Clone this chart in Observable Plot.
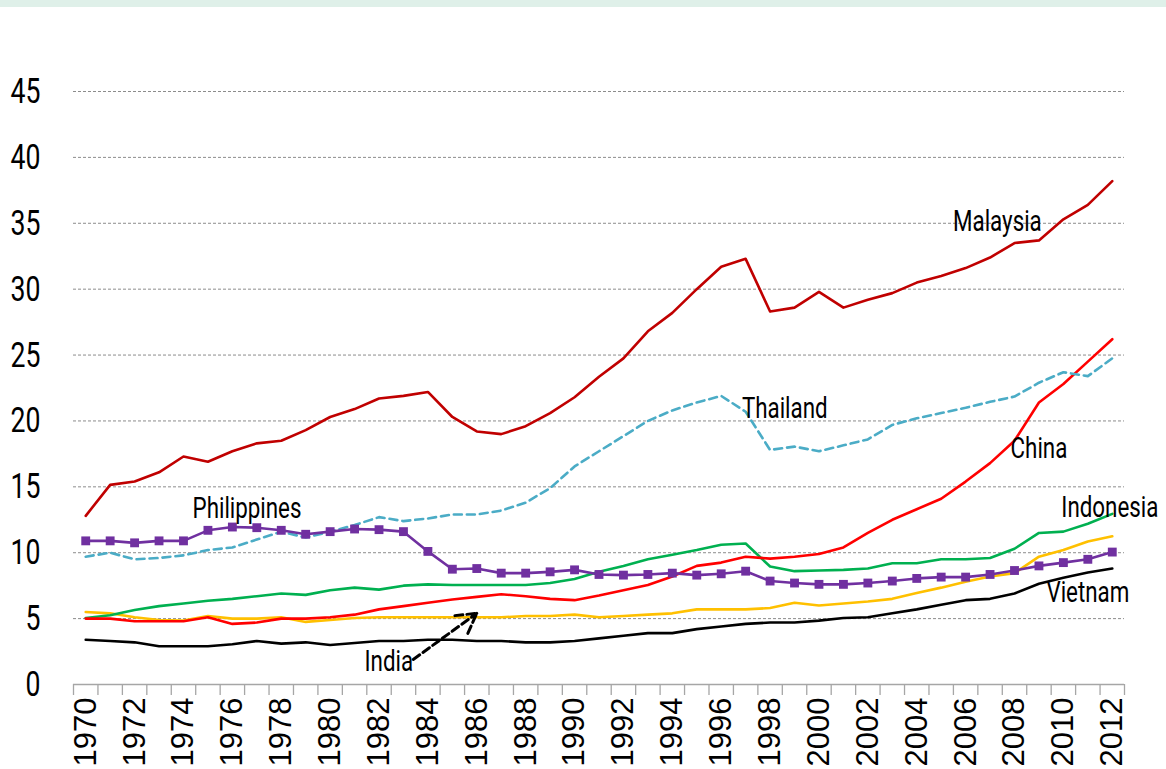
<!DOCTYPE html>
<html><head><meta charset="utf-8">
<script src="https://cdn.jsdelivr.net/npm/d3@7"></script>
<script src="https://cdn.jsdelivr.net/npm/@observablehq/plot@0.6"></script>
<style>
body{margin:0;background:#fff;overflow:hidden}
#band{height:7px;background:#dff0e9}
</style></head><body><div id="band"></div><div id="chart"></div>
<script>
const years = [1970,1971,1972,1973,1974,1975,1976,1977,1978,1979,1980,1981,1982,1983,1984,1985,1986,1987,1988,1989,1990,1991,1992,1993,1994,1995,1996,1997,1998,1999,2000,2001,2002,2003,2004,2005,2006,2007,2008,2009,2010,2011,2012];
const yearLabels = [1970,1972,1974,1976,1978,1980,1982,1984,1986,1988,1990,1992,1994,1996,1998,2000,2002,2004,2006,2008,2010,2012];
const yTicks = [0,5,10,15,20,25,30,35,40,45];

const malaysia = [12.8,15.15,15.4,16.1,17.3,16.9,17.7,18.3,18.5,19.3, 20.3,20.9,21.7,21.9,22.2,20.3,19.2,19.0,19.6,20.6, 21.8,23.35,24.75,26.8,28.2,30.0,31.7,32.3,28.3,28.6, 29.8,28.6,29.2,29.7,30.5,31.0,31.6,32.4,33.5,33.7, 35.3,36.4,38.2];
const thailand = [9.7,10.0,9.5,9.6,9.8,10.2,10.4,11.0,11.6,11.15, 11.6,12.1,12.7,12.4,12.6,12.9,12.9,13.2,13.8,14.9, 16.55,17.7,18.85,20.0,20.8,21.4,21.9,20.7,17.8,18.05, 17.7,18.15,18.6,19.7,20.2,20.6,21.0,21.45,21.85,22.9, 23.7,23.4,24.75];
const china = [5.0,5.0,4.8,4.8,4.8,5.1,4.6,4.7,5.0,5.0, 5.1,5.3,5.7,5.95,6.2,6.45,6.65,6.85,6.7,6.5, 6.4,6.75,7.15,7.55,8.2,9.0,9.25,9.7,9.55,9.7, 9.9,10.4,11.5,12.5,13.3,14.1,15.4,16.8,18.5,21.4, 22.8,24.5,26.2];
const indonesia = [5.05,5.25,5.65,5.95,6.15,6.35,6.5,6.7,6.9,6.8, 7.15,7.35,7.2,7.5,7.6,7.55,7.55,7.55,7.55,7.7, 8.0,8.55,9.0,9.5,9.85,10.2,10.6,10.7,8.95,8.6, 8.65,8.7,8.8,9.2,9.2,9.5,9.5,9.6,10.3,11.5, 11.6,12.2,12.95];
const philippines = [10.9,10.9,10.75,10.9,10.9,11.7,11.95,11.9,11.7,11.4, 11.6,11.8,11.75,11.6,10.1,8.75,8.8,8.45,8.45,8.55, 8.7,8.35,8.3,8.35,8.45,8.3,8.4,8.6,7.85,7.7, 7.6,7.6,7.7,7.85,8.05,8.15,8.15,8.35,8.65,9.0, 9.25,9.5,10.05];
const india = [5.5,5.4,5.1,4.9,4.85,5.2,5.0,5.0,5.1,4.75, 4.9,5.05,5.1,5.1,5.1,5.1,5.1,5.1,5.2,5.2, 5.3,5.1,5.2,5.3,5.4,5.7,5.7,5.7,5.8,6.2, 6.0,6.15,6.3,6.5,6.95,7.35,7.8,8.2,8.45,9.7, 10.2,10.85,11.25];
const vietnam = [3.4,3.3,3.2,2.9,2.9,2.9,3.05,3.3,3.1,3.2, 3.0,3.15,3.3,3.3,3.4,3.4,3.3,3.3,3.2,3.2, 3.3,3.5,3.7,3.9,3.9,4.2,4.4,4.6,4.7,4.7, 4.85,5.05,5.1,5.4,5.7,6.05,6.4,6.5,6.9,7.65, 8.1,8.5,8.8];

const labelNames = ["Malaysia","Thailand","China","Indonesia","Philippines","Vietnam","India"];
const labelX = [2007.3,1998.6,2009.0,2011.9,1976.6,2011.0,1982.4];
const labelY = [35.1,20.9,17.9,13.4,13.35,7.0,1.7];
const indiaArrow = [{x1:1983.4, y1:1.9, x2:1986.0, y2:5.4}];

const series = [
  {name:"Vietnam", values:vietnam, color:"#000000", dash:null},
  {name:"India", values:india, color:"#ffc000", dash:null},
  {name:"Indonesia", values:indonesia, color:"#00b050", dash:null},
  {name:"China", values:china, color:"#ff0000", dash:null},
  {name:"Thailand", values:thailand, color:"#4bacc6", dash:"8,5"},
  {name:"Malaysia", values:malaysia, color:"#c00000", dash:null},
  {name:"Philippines", values:philippines, color:"#7030a0", dash:null}
];
const toRows = s => s.values.map((v,i)=>({year:years[i], value:v}));
const bounds = [years[0]-0.5, ...years.map(y=>y+0.5)];
const cond = "Roboto,sans-serif";

const marks = [
  Plot.ruleY(yTicks.filter(d=>d>0), {stroke:"#8c8c8c", strokeWidth:1, strokeDasharray:"3,2"}),
  Plot.ruleY([0], {stroke:"#a6a6a6", strokeWidth:1.5}),
  Plot.axisX(bounds, {tickSize:11, tickFormat:()=>"", stroke:"#a6a6a6", strokeWidth:1.3}),
  Plot.text(yearLabels, {x:d=>d, y:0, text:d=>String(d), rotate:-90, textAnchor:"end", dy:13, fontSize:31, fontFamily:"'Liberation Sans',Arial,sans-serif", fill:"#000"}),
  Plot.text(yTicks, {y:d=>d, frameAnchor:"left", text:d=>String(d), textAnchor:"end", dx:-33, fontSize:36, fontFamily:cond, fill:"#000"})
];
for (const s of series) {
  marks.push(Plot.line(toRows(s), {x:"year", y:"value", stroke:s.color, strokeWidth:2.6, strokeDasharray:s.dash ?? undefined}));
  if (s.name === "Philippines") marks.push(Plot.dot(toRows(s), {x:"year", y:"value", symbol:"square", r:5, fill:s.color, stroke:"none"}));
}
marks.push(Plot.text(labelNames.map((n,i)=>({n, x:labelX[i], y:labelY[i]})), {x:"x", y:"y", text:"n", fontSize:29, fontFamily:cond, fill:"#000"}));
marks.push(Plot.arrow(indiaArrow, {x1:"x1", y1:"y1", x2:"x2", y2:"y2", stroke:"#000", strokeWidth:3, strokeDasharray:"8,4", headLength:11}));

const chart = Plot.plot({
  width:1166, height:762,
  marginTop:84, marginBottom:85, marginLeft:73, marginRight:42,
  x:{domain:[1969.5,2012.5], axis:null},
  y:{domain:[0,45], axis:null},
  style:{background:"#fff", overflow:"visible"},
  marks
});
// horizontally condense the Roboto texts (style only, positions kept)
chart.querySelectorAll("g").forEach(g => {
  const ff = g.getAttribute("font-family");
  if (ff && ff.startsWith("Roboto")) {
    const s = g.getAttribute("font-size") === "36" ? 0.74 : 0.77;
    g.querySelectorAll("text").forEach(t => {
      const tr = t.getAttribute("transform");
      if (tr) t.setAttribute("transform", tr + ` scale(${s},1)`);
    });
  }
});
document.getElementById("chart").appendChild(chart);
</script></body></html>
